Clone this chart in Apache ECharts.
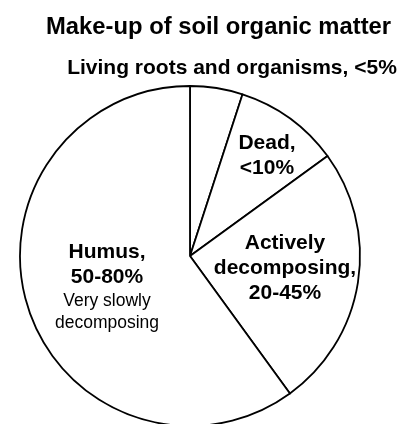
<!DOCTYPE html>
<html>
<head>
<meta charset="utf-8">
<style>
  html, body { margin: 0; padding: 0; background: #fff; }
  #main { width: 412px; height: 424px; }
</style>
<script src="https://cdn.jsdelivr.net/npm/echarts@6/dist/echarts.min.js"></script>
</head>
<body>
<div id="main"></div>
<script>
  // slices, clockwise from 12 o'clock
  var names = ['Living roots and organisms', 'Dead', 'Actively decomposing', 'Humus'];
  var values = [5, 10, 25, 60];
  var ranges = ['<5%', '<10%', '20-45%', '50-80%'];
  var notes = ['', '', '', 'Very slowly\ndecomposing'];

  // where each label sits (x, y of its centre)
  var labelPos = [[232, 68], [267, 156], [285, 268], [107, 287]];

  var chart = echarts.init(document.getElementById('main'));
  var font = '"Liberation Sans", Arial, sans-serif';

  var data = names.map(function (n, i) {
    return { name: n, value: values[i] };
  });

  var option = {
    animation: false,
    backgroundColor: '#fff',
    title: {
      text: 'Make-up of soil organic matter',
      left: 41,
      top: 10,
      textStyle: { fontFamily: font, fontSize: 23.8, fontWeight: 'bold', color: '#000' }
    },
    series: [{
      type: 'pie',
      center: [190, 256],
      radius: 170,
      startAngle: 90,
      clockwise: true,
      data: data,
      itemStyle: { color: '#fff', borderColor: '#000', borderWidth: 1.8 },
      emphasis: { disabled: true },
      labelLine: { show: false },
      label: {
        show: true,
        position: 'inside',
        color: '#000',
        fontFamily: font,
        formatter: function (p) {
          var i = p.dataIndex;
          if (i === 0) return '{b|' + p.name + ', ' + ranges[i] + '}';
          var words = p.name.split(' ');
          var s = words.map(function (w, k) {
            return '{b|' + w + (k === words.length - 1 ? ',' : '') + '}';
          }).join('\n');
          s += '\n{b|' + ranges[i] + '}';
          if (notes[i]) {
            s += '\n' + notes[i].split('\n').map(function (t) { return '{n|' + t + '}'; }).join('\n');
          }
          return s;
        },
        rich: {
          b: { fontFamily: font, fontSize: 21, fontWeight: 'bold', color: '#000', lineHeight: 25 },
          n: { fontFamily: font, fontSize: 17.5, fontWeight: 'normal', color: '#000', lineHeight: 22 }
        }
      },
      labelLayout: function (p) {
        var pos = labelPos[p.dataIndex];
        return { x: pos[0], y: pos[1], align: 'center', verticalAlign: 'middle' };
      }
    }]
  };

  chart.setOption(option);
</script>
</body>
</html>
